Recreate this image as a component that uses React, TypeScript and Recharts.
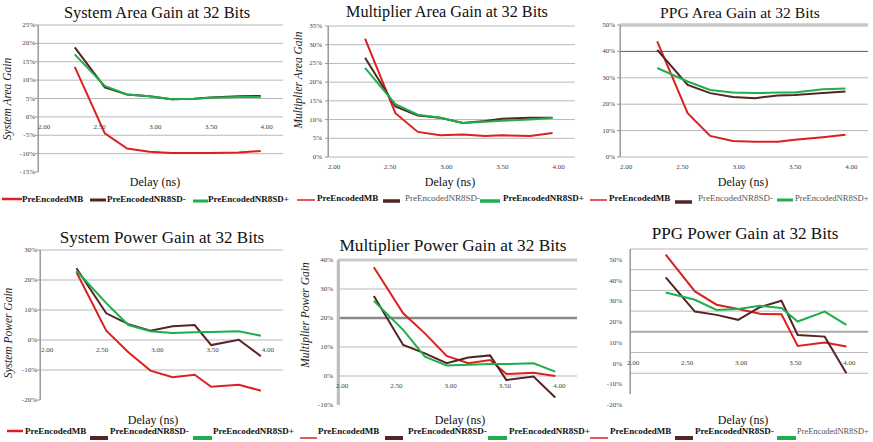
import { CartesianGrid, Line, LineChart, ReferenceLine, XAxis, YAxis } from "recharts";

const FONT = '"Liberation Serif", "Times New Roman", serif';

// delay points (ns) shared by every panel
const delays = [2.33, 2.6, 2.8, 3.0, 3.2, 3.4, 3.55, 3.8, 4.0];
const xTicks = [2, 2.5, 3, 3.5, 4];
const seriesNames = ["PreEncodedMB", "PreEncodedNR8SD-", "PreEncodedNR8SD+"];
const seriesKeys = ["mb", "minus", "plus"];
const seriesColors = ["#dc2020", "#552424", "#20ad4e"];

// gains in %
const sysAreaMB = [13.6, -4.5, -8.6, -9.5, -9.8, -9.8, -9.8, -9.7, -9.3];
const sysAreaMinus = [18.9, 8.0, 6.1, 5.6, 4.8, 4.9, 5.3, 5.6, 5.7];
const sysAreaPlus = [17.0, 8.4, 6.1, 5.6, 4.8, 4.9, 5.2, 5.4, 5.4];

const mulAreaMB = [31.6, 11.7, 6.7, 5.8, 6.0, 5.6, 5.8, 5.6, 6.4];
const mulAreaMinus = [26.5, 13.5, 11.1, 10.5, 9.1, 9.6, 10.2, 10.5, 10.5];
const mulAreaPlus = [23.8, 14.1, 11.3, 10.5, 9.1, 9.4, 9.7, 10.0, 10.4];

const ppgAreaMB = [43.8, 16.6, 8.0, 6.1, 5.8, 5.8, 6.5, 7.5, 8.4];
const ppgAreaMinus = [40.6, 27.3, 24.2, 22.7, 22.3, 23.3, 23.5, 24.2, 24.8];
const ppgAreaPlus = [33.7, 28.6, 25.4, 24.4, 24.2, 24.4, 24.4, 25.7, 25.9];

const sysPowMB = [22.6, 3.1, -4.1, -10.2, -12.4, -11.6, -15.6, -14.9, -16.9];
const sysPowMinus = [23.9, 8.9, 5.3, 3.1, 4.6, 5.0, -1.7, 0.1, -5.4];
const sysPowPlus = [23.1, 12.3, 5.0, 2.9, 2.3, 2.6, 2.7, 2.9, 1.4];

const mulPowMB = [37.5, 21.6, 14.7, 6.9, 4.4, 5.5, 0.7, 1.1, 0.0];
const mulPowMinus = [27.6, 10.7, 7.8, 4.4, 6.4, 7.1, -1.4, -0.2, -7.4];
const mulPowPlus = [25.9, 15.9, 6.7, 3.6, 3.9, 4.1, 4.1, 4.4, 1.5];

const ppgPowMB = [47.3, 29.5, 23.1, 21.0, 18.7, 18.5, 3.2, 4.8, 2.9];
const ppgPowMinus = [36.3, 19.8, 18.2, 15.8, 21.9, 25.0, 8.5, 7.7, -10.0];
const ppgPowPlus = [29.0, 25.5, 20.6, 21.0, 22.6, 21.5, 15.0, 19.8, 13.4];

const sysAreaTicks = [-15, -10, -5, 0, 5, 10, 15, 20, 25];
const mulAreaTicks = [0, 5, 10, 15, 20, 25, 30, 35];
const ppgAreaTicks = [0, 10, 20, 30, 40, 50];
const sysPowTicks = [-20, -10, 0, 10, 20, 30];
const mulPowTicks = [-10, 0, 10, 20, 30, 40];
const ppgPowTicks = [-20, -10, 0, 10, 20, 30, 40, 50];

const rows = (mb: number[], minus: number[], plus: number[]) =>
  delays.map((d, i) => ({ delay: d, mb: mb[i], minus: minus[i], plus: plus[i] }));

const YAXIS_W = 30;
const XAXIS_H = 20;

type LegendItem = { x1: number; x2: number; ly: number; lw: number; tx: number; light?: boolean; fs?: number };

const panels = [
  {
    title: "System Area Gain at 32 Bits", titleSize: 16.4, titleX: 157, titleY: 12,
    yLabel: "System Area Gain", yLabelX: 7, yLabelY: 99, xTitleX: 155, xTitleY: 182,
    box: { left: 0, top: 0, width: 290, height: 215 }, plot: { l: 38, t: 25, r: 283, b: 172 },
    data: rows(sysAreaMB, sysAreaMinus, sysAreaPlus), ticks: sysAreaTicks,
    xdx: 6, ydy: 0, ytick: true, ygap: 3, axisW: 1, special: [] as { v: number; c: string; w: number }[],
    legendY: 199,
    legend: [
      { x1: 2, x2: 22, ly: 199, lw: 2.5, tx: 22 },
      { x1: 90, x2: 106, ly: 200, lw: 3, tx: 107 },
      { x1: 193, x2: 208, ly: 201, lw: 3, tx: 208 },
    ] as LegendItem[],
  },
  {
    title: "Multiplier Area Gain at 32 Bits", titleSize: 16.2, titleX: 447, titleY: 12,
    yLabel: "Multiplier Area Gain", yLabelX: 298, yLabelY: 80, xTitleX: 450, xTitleY: 182,
    box: { left: 290, top: 0, width: 290, height: 215 }, plot: { l: 328, t: 26, r: 575, b: 157 },
    data: rows(mulAreaMB, mulAreaMinus, mulAreaPlus), ticks: mulAreaTicks,
    xdx: 6, ydy: 0, ytick: true, ygap: 6, axisW: 1, special: [],
    legendY: 198,
    legend: [
      { x1: 297, x2: 315, ly: 200, lw: 1.5, tx: 317 },
      { x1: 383, x2: 400, ly: 201, lw: 3.5, tx: 405, light: true },
      { x1: 480, x2: 500, ly: 201, lw: 3.5, tx: 503 },
    ],
  },
  {
    title: "PPG Area Gain at 32 Bits", titleSize: 15.6, titleX: 740, titleY: 12,
    yLabel: "", yLabelX: 0, yLabelY: 0, xTitleX: 743, xTitleY: 182,
    box: { left: 580, top: 0, width: 293, height: 215 }, plot: { l: 620, t: 25, r: 868, b: 157 },
    data: rows(ppgAreaMB, ppgAreaMinus, ppgAreaPlus), ticks: ppgAreaTicks,
    xdx: 6, ydy: 0, ytick: true, ygap: 5, axisW: 1,
    special: [
      { v: 50, c: "#c8c8c8", w: 3.5 },
      { v: 40, c: "#5a5a5a", w: 1 },
    ],
    legendY: 198,
    legend: [
      { x1: 590, x2: 607, ly: 200, lw: 1.5, tx: 609 },
      { x1: 675, x2: 692, ly: 202, lw: 3.5, tx: 698, light: true },
      { x1: 777, x2: 793, ly: 200, lw: 3, tx: 795, light: true, fs: 8.6 },
    ],
  },
  {
    title: "System Power Gain at 32 Bits", titleSize: 17, titleX: 162, titleY: 237,
    yLabel: "System Power Gain", yLabelX: 8, yLabelY: 333, xTitleX: 153, xTitleY: 420,
    box: { left: 0, top: 220, width: 290, height: 222 }, plot: { l: 40, t: 250, r: 283, b: 400 },
    data: rows(sysPowMB, sysPowMinus, sysPowPlus), ticks: sysPowTicks,
    xdx: 7, ydy: 0, ytick: true, ygap: 3, axisW: 1, special: [],
    legendY: 431,
    legend: [
      { x1: 7, x2: 23, ly: 431, lw: 2.5, tx: 25 },
      { x1: 90, x2: 108, ly: 438, lw: 4, tx: 110 },
      { x1: 193, x2: 212, ly: 438, lw: 4, tx: 213 },
    ],
  },
  {
    title: "Multiplier Power Gain at 32 Bits", titleSize: 17.3, titleX: 453, titleY: 245,
    yLabel: "Multiplier Power Gain", yLabelX: 305, yLabelY: 315, xTitleX: 460, xTitleY: 420,
    box: { left: 290, top: 220, width: 290, height: 222 }, plot: { l: 338, t: 260, r: 577, b: 405 },
    data: rows(mulPowMB, mulPowMinus, mulPowPlus), ticks: mulPowTicks,
    xdx: 4, ydy: 0, ytick: false, ygap: 5, axisW: 2.5,
    special: [
      { v: 40, c: "#cacaca", w: 3 },
      { v: 20, c: "#8a8a8a", w: 2.5 },
    ],
    legendY: 431,
    legend: [
      { x1: 300, x2: 317, ly: 438, lw: 1.5, tx: 318 },
      { x1: 385, x2: 403, ly: 438, lw: 4, tx: 408 },
      { x1: 488, x2: 507, ly: 438, lw: 4, tx: 509 },
    ],
  },
  {
    title: "PPG Power Gain at 32 Bits", titleSize: 17.1, titleX: 745, titleY: 233,
    yLabel: "", yLabelX: 0, yLabelY: 0, xTitleX: 743, xTitleY: 420,
    box: { left: 580, top: 220, width: 293, height: 222 }, plot: { l: 630, t: 249, r: 868, b: 394 },
    data: rows(ppgPowMB, ppgPowMinus, ppgPowPlus), ticks: ppgPowTicks,
    xdx: 3, ydy: 11, ytick: false, ygap: 8, axisW: 1,
    special: [{ v: 10, c: "#a8a8a8", w: 2 }],
    legendY: 431,
    legend: [
      { x1: 590, x2: 608, ly: 438, lw: 1.5, tx: 610 },
      { x1: 675, x2: 693, ly: 438, lw: 4, tx: 695 },
      { x1: 777, x2: 796, ly: 438, lw: 4, tx: 797, light: true, fs: 8.4 },
    ],
  },
];

function XTick(props: any) {
  const { x, payload, zeroY, dx } = props;
  return (
    <text x={x + dx} y={zeroY + 10} textAnchor="middle" dominantBaseline="central" fontSize={7} fill="#444" fontFamily={FONT}>
      {Number(payload.value).toFixed(2)}
    </text>
  );
}

function YTick(props: any) {
  const { y, payload, dy, axisX, gap, mark } = props;
  return (
    <g>
      {mark && <path d={`M${axisX - 3},${y}H${axisX}`} stroke="#999" />}
      <text x={axisX - gap} y={y + dy} textAnchor="end" dominantBaseline="central" fontSize={7} fill="#444" fontFamily={FONT}>
        {`${payload.value}%`}
      </text>
    </g>
  );
}

function Panel({ p }: { p: (typeof panels)[number] }) {
  const { box, plot, ticks } = p;
  const ymin = ticks[0];
  const ymax = ticks[ticks.length - 1];
  const zeroY = plot.t - box.top + ((plot.b - plot.t) * ymax) / (ymax - ymin);
  const axisX = plot.l - box.left;
  const gridValues = ticks.filter((v) => v !== ymin || ymin === 0).filter((v) => !p.special.some((s) => s.v === v));
  const margin = {
    top: plot.t - box.top,
    right: box.left + box.width - plot.r,
    bottom: box.top + box.height - plot.b - XAXIS_H,
    left: plot.l - box.left - YAXIS_W,
  };
  const axisColor = p.axisW > 1 ? "#bdbdbd" : "#9c9c9c";
  return (
    <div style={{ position: "absolute", left: box.left, top: box.top }}>
      <LineChart width={box.width} height={box.height} data={p.data} margin={margin}>
        <CartesianGrid vertical={false} horizontalValues={gridValues} stroke="#b8b8b8" />
        {p.special.map((s) => (
          <CartesianGrid key={s.v} vertical={false} horizontalValues={[s.v]} stroke={s.c} strokeWidth={s.w} />
        ))}
        <CartesianGrid horizontal={false} verticalValues={[2.004]} stroke={axisColor} strokeWidth={p.axisW} />
        <XAxis
          dataKey="delay"
          type="number"
          domain={[2, 4.2]}
          ticks={xTicks}
          interval={0}
          height={XAXIS_H}
          allowDataOverflow
          axisLine={false}
          tickLine={false}
          tickSize={0}
          tickMargin={0}
          tick={(t: any) => <XTick {...t} zeroY={zeroY} dx={p.xdx} />}
        />
        <YAxis
          type="number"
          domain={[ymin, ymax]}
          ticks={ticks}
          interval={0}
          width={YAXIS_W}
          allowDataOverflow
          stroke={axisColor}
          axisLine={{ stroke: axisColor, strokeWidth: p.axisW }}
          tickLine={false}
          tick={(t: any) => <YTick {...t} dy={p.ydy} axisX={axisX} gap={p.ygap} mark={p.ytick} />}
        />
        <ReferenceLine x={2.004} ifOverflow="visible" stroke={axisColor} strokeWidth={p.axisW} />
        {seriesKeys.map((k, i) => (
          <Line
            key={k}
            name={seriesNames[i]}
            dataKey={k}
            type="linear"
            stroke={seriesColors[i]}
            strokeWidth={2}
            dot={false}
            isAnimationActive={false}
          />
        ))}
      </LineChart>
    </div>
  );
}

export default function App() {
  return (
    <div style={{ position: "absolute", left: 0, top: 0, width: 873, height: 442, background: "#fff", overflow: "hidden" }}>
      {panels.map((p) => (
        <Panel key={p.title} p={p} />
      ))}
      <svg width={873} height={442} style={{ position: "absolute", left: 0, top: 0, pointerEvents: "none" }}>
        {panels.map((p) => (
          <g key={p.title} fontFamily={FONT}>
            <text x={p.titleX} y={p.titleY} textAnchor="middle" dominantBaseline="central" fontSize={p.titleSize} fill="#111">
              {p.title}
            </text>
            {p.yLabel && (
              <text
                x={p.yLabelX}
                y={p.yLabelY}
                textAnchor="middle"
                dominantBaseline="central"
                fontSize={11.5}
                fontStyle="italic"
                fill="#222"
                transform={`rotate(-90 ${p.yLabelX} ${p.yLabelY})`}
              >
                {p.yLabel}
              </text>
            )}
            <text x={p.xTitleX} y={p.xTitleY} textAnchor="middle" dominantBaseline="central" fontSize={12} fill="#111">
              Delay (ns)
            </text>
            {p.legend.map((it: LegendItem, i: number) => (
              <g key={i}>
                <line x1={it.x1} x2={it.x2} y1={it.ly} y2={it.ly} stroke={seriesColors[i]} strokeWidth={it.lw} />
                <text
                  x={it.tx}
                  y={p.legendY}
                  dominantBaseline="central"
                  fontSize={it.fs ?? 9}
                  fontWeight={it.light ? "normal" : "bold"}
                  fill={it.light ? "#555" : "#111"}
                >
                  {seriesNames[i]}
                </text>
              </g>
            ))}
          </g>
        ))}
      </svg>
    </div>
  );
}
